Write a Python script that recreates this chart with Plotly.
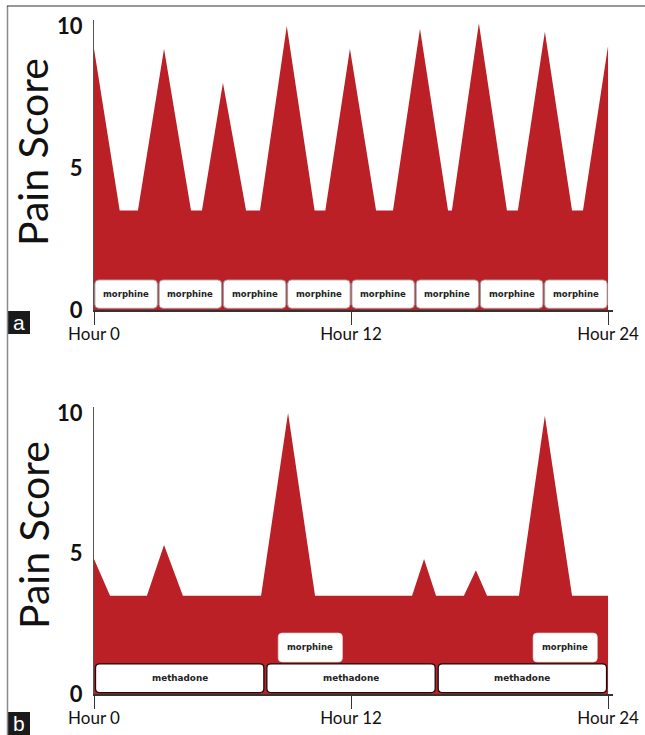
import plotly.graph_objects as go

# ---------------- data ----------------
hours_a = [0, 1.2, 2.05, 3.27, 4.53, 5.04, 6.02, 7.1, 7.75, 9.0, 10.3, 10.8,
           11.95, 13.17, 13.96, 15.22, 16.53, 16.71, 17.97, 19.28, 19.79,
           21.05, 22.32, 22.83, 24.0]
pain_a = [9.2, 3.5, 3.5, 9.2, 3.5, 3.5, 8.0, 3.5, 3.5, 10.0, 3.5, 3.5,
          9.2, 3.5, 3.5, 9.9, 3.5, 3.5, 10.1, 3.5, 3.5, 9.8, 3.5, 3.5, 9.3]

hours_b = [0, 0.75, 2.47, 3.27, 4.15, 7.8, 9.06, 10.32, 14.85, 15.41, 15.97,
           17.27, 17.83, 18.35, 19.84, 21.05, 22.32, 24.0]
pain_b = [4.8, 3.5, 3.5, 5.3, 3.5, 3.5, 10.0, 3.5, 3.5, 4.8, 3.5,
          3.5, 4.4, 3.5, 3.5, 9.9, 3.5, 3.5]

# dosing intervals (start hour, end hour)
morphine_a = [(0, 3), (3, 6), (6, 9), (9, 12), (12, 15), (15, 18), (18, 21), (21, 24)]
methadone_b = [(0, 8), (8, 16), (16, 24)]
morphine_b = [(8.6, 11.6), (20.5, 23.5)]

tick_vals_x = [0, 12, 24]
tick_text_x = ["Hour 0", "Hour 12", "Hour 24"]
tick_vals_y = [0, 5, 10]
tick_text_y = ["0", "5", "10"]
y_title = "Pain Score"

# ---------------- layout helpers ----------------
W, H = 645, 735
RED = "#BB2026"


def px(x):
    return x / W


def py(y):
    return 1 - y / H


fig = go.Figure()

fig.add_trace(go.Scatter(x=hours_a, y=pain_a, mode="lines", fill="tozeroy",
                         fillcolor=RED, line=dict(width=0, color=RED),
                         xaxis="x", yaxis="y", hoverinfo="skip", showlegend=False))
fig.add_trace(go.Scatter(x=hours_b, y=pain_b, mode="lines", fill="tozeroy",
                         fillcolor=RED, line=dict(width=0, color=RED),
                         xaxis="x2", yaxis="y2", hoverinfo="skip", showlegend=False))

x_dom = [px(94), px(613.4)]
ya_dom = [py(310), py(310 - 28.4 * 10.2)]
yb_dom = [py(694), py(694 - 28.1 * 10.2)]

xcommon = dict(range=[0, 24.25], domain=x_dom, showgrid=False, zeroline=False,
               automargin=False,
               showline=True, linecolor="#333", linewidth=1.5, layer="above traces",
               ticks="outside", ticklen=13, tickwidth=1.3, tickcolor="#333",
               ticklabelstandoff=-5,
               tickvals=tick_vals_x, ticktext=tick_text_x,
               tickfont=dict(family="Lato", size=17, color="#111"))
ycommon = dict(range=[0, 10.2], showgrid=False, zeroline=False,
               automargin=False,
               showline=True, linecolor="#555", linewidth=1.2, layer="below traces",
               ticks="", tickvals=tick_vals_y, ticktext=tick_text_y,
               ticklabelstandoff=6,
               tickfont=dict(family="Lato", size=22, color="#111", weight="bold"))

fig.update_layout(
    width=W, height=H, margin=dict(l=0, r=0, t=0, b=0, pad=0, autoexpand=False),
    paper_bgcolor="white", plot_bgcolor="rgba(0,0,0,0)",
    xaxis=dict(anchor="y", **xcommon),
    yaxis=dict(anchor="x", domain=ya_dom, **ycommon),
    xaxis2=dict(anchor="y2", **xcommon),
    yaxis2=dict(anchor="x2", domain=yb_dom, **ycommon),
)

shapes = []
annotations = []


def rounded_box(x0, x1, y0, y1, rpx, ppx_x, ppx_y):
    rx = rpx / ppx_x
    ry = rpx / ppx_y
    return (f"M {x0 + rx},{y0} L {x1 - rx},{y0} Q {x1},{y0} {x1},{y0 + ry} "
            f"L {x1},{y1 - ry} Q {x1},{y1} {x1 - rx},{y1} L {x0 + rx},{y1} "
            f"Q {x0},{y1} {x0},{y1 - ry} L {x0},{y0 + ry} Q {x0},{y0} {x0 + rx},{y0} Z")


PPX = 21.42  # px per hour
GAP = 0.04

for (s, e) in morphine_a:
    shapes.append(dict(type="path", xref="x", yref="y",
                       path=rounded_box(s + GAP, e - GAP, 0.06, 1.06, 4, PPX, 28.4),
                       fillcolor="white", line=dict(color="#9a9a9a", width=1), layer="above"))
    annotations.append(dict(x=(s + e) / 2, y=0.56, xref="x", yref="y", text="morphine",
                            showarrow=False, xanchor="center", yanchor="middle",
                            font=dict(family="DejaVu Sans", size=8.5, color="#222", weight="bold")))

for (s, e) in methadone_b:
    shapes.append(dict(type="path", xref="x2", yref="y2",
                       path=rounded_box(s + 0.07, e - 0.07, 0.05, 1.07, 4, PPX, 28.1),
                       fillcolor="white", line=dict(color="#111", width=1.3), layer="above"))
    annotations.append(dict(x=(s + e) / 2, y=0.56, xref="x2", yref="y2", text="methadone",
                            showarrow=False, xanchor="center", yanchor="middle",
                            font=dict(family="DejaVu Sans", size=8.8, color="#222", weight="bold")))

for (s, e) in morphine_b:
    shapes.append(dict(type="path", xref="x2", yref="y2",
                       path=rounded_box(s, e, 1.14, 2.17, 4, PPX, 28.1),
                       fillcolor="white", line=dict(color="#dddddd", width=0.6), layer="above"))
    annotations.append(dict(x=(s + e) / 2, y=1.655, xref="x2", yref="y2", text="morphine",
                            showarrow=False, xanchor="center", yanchor="middle",
                            font=dict(family="DejaVu Sans", size=8.5, color="#222", weight="bold")))

# y titles
for yc in (152, 535):
    annotations.append(dict(x=px(33), y=py(yc), xref="paper", yref="paper", text=y_title,
                            textangle=-90, showarrow=False, xanchor="center", yanchor="middle",
                            font=dict(family="Lato", size=41, color="#111")))

# panel labels
for lab, y0 in (("a", 311), ("b", 712)):
    shapes.append(dict(type="rect", xref="paper", yref="paper",
                       x0=px(7), x1=px(30), y0=py(y0 + 23), y1=py(y0),
                       fillcolor="#1a1a1a", line=dict(width=0), layer="above"))
    annotations.append(dict(x=px(18.5), y=py(y0 + 11.5), xref="paper", yref="paper", text=lab,
                            showarrow=False, xanchor="center", yanchor="middle",
                            font=dict(family="Liberation Sans", size=21, color="white")))

# frame
shapes.append(dict(type="line", xref="paper", yref="paper", x0=px(7.5), x1=px(7.5),
                   y0=py(6), y1=py(735), line=dict(color="#8a8a8a", width=1.5)))
shapes.append(dict(type="line", xref="paper", yref="paper", x0=px(7), x1=px(645),
                   y0=py(6), y1=py(6), line=dict(color="#333", width=1.2)))

fig.update_layout(shapes=shapes, annotations=annotations)

fig.write_html("out.html", config=dict(displayModeBar=False),
               post_script="document.body.style.margin='0';document.body.style.overflow='hidden';")
